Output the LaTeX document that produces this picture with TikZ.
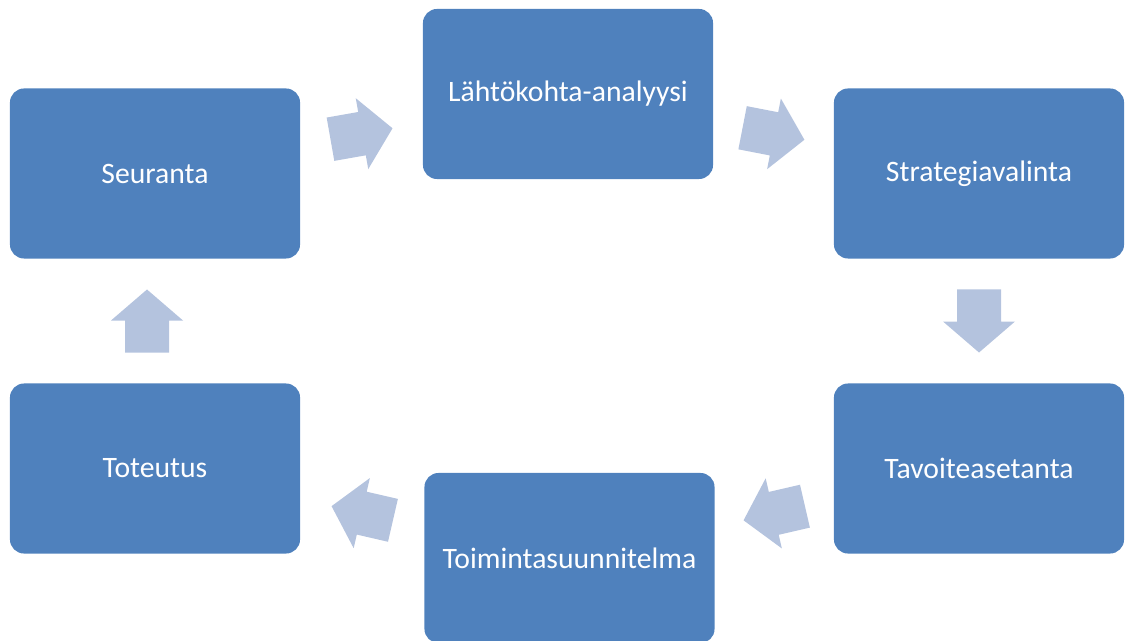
\documentclass[tikz,border=0pt]{standalone}
\usepackage{fontspec}
\setmainfont{Carlito}
\usetikzlibrary{calc}

\definecolor{boxblue}{HTML}{4F81BD}
\definecolor{arrowblue}{HTML}{B4C3DE}

\tikzset{phase/.style={rectangle,rounded corners=0.35cm,fill=boxblue,text=white,
    minimum width=7.25cm,minimum height=4.25cm,inner sep=0pt,
    font=\fontsize{21.1}{25}\selectfont},
  arrowfill/.style={fill=arrowblue}}

% block arrow: #1 = coordinate, #2 = angle
\newcommand{\cyclearrow}[2]{\fill[arrowfill,shift={(#1)},rotate=#2]
  (-31.5,-22) -- (0.5,-22) -- (0.5,-36) -- (31.5,0) -- (0.5,36) -- (0.5,22) -- (-31.5,22) -- cycle;}

\begin{document}
\begin{tikzpicture}[x=0.025cm,y=0.025cm]
\useasboundingbox (0,0) rectangle (1125,640);
\node[phase] (seur) at (155,466.5) {Seuranta};
\node[phase] (lahto) at (568,546) {Lähtökohta-analyysi};
\node[phase] (strat) at (979,466.5) {Strategiavalinta};
\node[phase] (tavoite) at (979,171.5) {Tavoiteasetanta};
\node[phase] (toim) at (569.5,82) {Toimintasuunnitelma};
\node[phase] (toteu) at (155,171.5) {Toteutus};

\coordinate (a1) at ($(seur)!0.5!(lahto)$);
\coordinate (a2) at ($(lahto)!0.5!(strat)$);
\coordinate (a3) at ($(strat)!0.5!(tavoite)$);
\coordinate (a4) at ($(tavoite)!0.5!(toim)$);
\coordinate (a5) at ($(toim)!0.5!(toteu)$);
\coordinate (a6) at ($(toteu)!0.5!(seur)+(-8,0)$);

\cyclearrow{a1}{10}
\cyclearrow{a2}{-11}
\cyclearrow{a3}{-90}
\cyclearrow{a4}{193}
\cyclearrow{a5}{167}
\cyclearrow{a6}{90}
\end{tikzpicture}
\end{document}
